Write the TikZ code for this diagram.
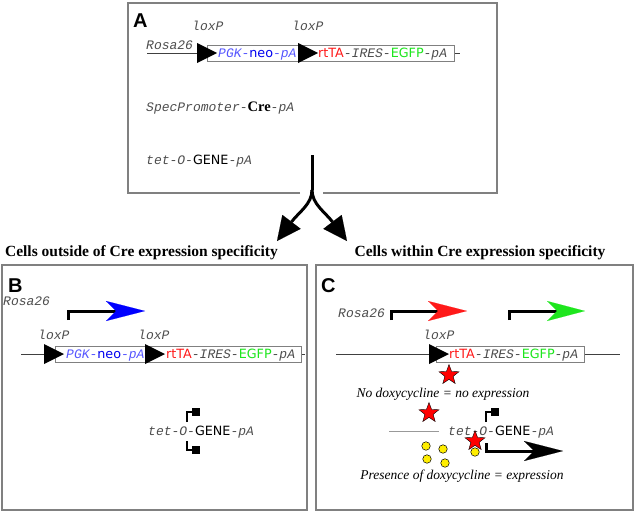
\documentclass[tikz,border=0pt]{standalone}
\usepackage{fontspec}
\setmainfont{Liberation Serif}
\setsansfont{DejaVu Sans}[Scale=0.98]
\setmonofont{Liberation Mono}
\newfontfamily\panelfont{Liberation Sans}
\usetikzlibrary{arrows.meta,shapes.geometric}

\definecolor{panelgray}{HTML}{808080}
\definecolor{seqgray}{HTML}{4D4D4D}
\definecolor{pgkblue}{HTML}{5555FF}
\definecolor{neoblue}{HTML}{0000F0}
\definecolor{tared}{HTML}{FF1A1A}
\definecolor{gfpgreen}{HTML}{1EE61E}
\definecolor{doxyellow}{HTML}{FFEE00}

\newcommand{\seqit}[1]{{\ttfamily\itshape #1}}
\newcommand{\pgkneo}{\textcolor{pgkblue}{\seqit{PGK-}}\textcolor{neoblue}{\sffamily neo}\textcolor{pgkblue}{\seqit{-pA}}}
\newcommand{\rttaegfp}{\textcolor{tared}{\sffamily rtTA}\seqit{-IRES-}\textcolor{gfpgreen}{\sffamily EGFP}\seqit{-pA}}
\newcommand{\tetgene}{\seqit{tet-O-}\textcolor{black}{\sffamily GENE}\seqit{-pA}}

\begin{document}
\begin{tikzpicture}[x=1pt, y=-1pt,
    panel/.style={draw=panelgray, line width=1.3pt},
    seq/.style={font=\fontsize{13}{15}\selectfont, text=seqgray, inner sep=0pt, anchor=base west},
    letter/.style={font=\panelfont\bfseries\fontsize{20}{22}\selectfont, inner sep=0pt, anchor=base west},
    heading/.style={font=\bfseries\fontsize{15.5}{18}\selectfont, inner sep=0pt, anchor=base},
    note/.style={font=\itshape\fontsize{13.5}{16}\selectfont, inner sep=0pt, anchor=base},
    chrom/.style={draw=black!75, line width=0.8pt},
    cassette/.style={draw=panelgray, fill=white, line width=0.9pt},
    promoter/.style={line width=3pt},
    stopline/.style={line width=1.2pt},
    rtta/.style={star, star points=5, star point ratio=2.4, draw=black, fill=red, minimum size=21pt, inner sep=0pt, line width=0.4pt},
    dox/.style={circle, draw=black, fill=doxyellow, minimum size=8.5pt, inner sep=0pt, line width=0.5pt},
    fork/.style={line width=3pt, -{Triangle[length=24pt, width=23pt, line width=0.1pt]}}]
  \useasboundingbox (0,0) rectangle (636,514);

  % panel A
  \draw [panel] (300,193) -| (128,3) -| (497,193) -- (323,193);
  \node [letter] (labA) at (133,27) {A};
  \draw [chrom] (147,53) -- (460,53);
  \draw [cassette] (207,45) rectangle (454,61);
  \fill (197,43) -- (217,53) -- (197,63) -- cycle;
  \fill (298,43) -- (318,53) -- (298,63) -- cycle;
  \node [seq] (rosaA) at (146,49) {\seqit{Rosa26}};
  \node [seq] (loxA1) at (192,30) {\seqit{loxP}};
  \node [seq] (loxA2) at (292,30) {\seqit{loxP}};
  \node [seq] (neoA) at (218,57) {\pgkneo};
  \node [seq] (rttaA) at (318,57) {\rttaegfp};
  \node [seq] (creA) at (146,111) {\seqit{SpecPromoter-}\textcolor{black}{\rmfamily\bfseries\fontsize{14.5}{16}\selectfont Cre}\seqit{-pA}};
  \node [seq] (tetA) at (146,164) {\tetgene};

  % split
  \coordinate (forkTop) at (312,155);
  \coordinate (fork) at (312,190);
  \node [heading] (outside) at (141.5,256) {Cells outside of Cre expression specificity};
  \node [heading] (within) at (480,256) {Cells within Cre expression specificity};
  \coordinate (tipL) at (277,241);
  \coordinate (tipR) at (347,241);
  \draw [line width=3pt] (forkTop) -- (fork);
  \draw [fork] (fork) .. controls (312,204) and (299,212) .. (tipL);
  \draw [fork] (fork) .. controls (312,204) and (325,212) .. (tipR);

  % panel B
  \draw [panel] (2,265) rectangle (307,510);
  \node [letter] (labB) at (8,292) {B};
  \node [seq] (rosaB) at (3,305) {\seqit{Rosa26}};
  \draw [promoter, -{Stealth[length=39pt, width=20pt, inset=10pt, color=blue, line width=0.1pt]}] (68,320) |- (145,311);
  \draw [chrom] (21,354) -- (305,354);
  \draw [cassette] (55,346) rectangle (301,362);
  \fill (44,344) -- (64,354) -- (44,364) -- cycle;
  \fill (145,344) -- (165,354) -- (145,364) -- cycle;
  \node [seq] (loxB1) at (38,339) {\seqit{loxP}};
  \node [seq] (loxB2) at (138,339) {\seqit{loxP}};
  \node [seq] (neoB) at (66,358) {\pgkneo};
  \node [seq] (rttaB) at (166,358) {\rttaegfp};
  \node [seq] (tetB) at (148,435) {\tetgene};
  \draw [stopline] (187,422) |- (192,412);
  \fill (192,408) rectangle (200,416);
  \draw [stopline] (187,441) |- (192,450);
  \fill (192,446) rectangle (200,454);

  % panel C
  \draw [panel] (316,265) rectangle (633,510);
  \node [letter] (labC) at (321,292) {C};
  \node [seq] (rosaC) at (338,317) {\seqit{Rosa26}};
  \draw [promoter, -{Stealth[length=39pt, width=20pt, inset=10pt, color=tared, line width=0.1pt]}] (391,320) |- (467,311);
  \draw [promoter, -{Stealth[length=38pt, width=20pt, inset=10pt, color=gfpgreen, line width=0.1pt]}] (509,320) |- (585,311);
  \draw [chrom] (336,354) -- (620,354);
  \draw [cassette] (436,346) rectangle (584,362);
  \fill (429,344) -- (449,354) -- (429,364) -- cycle;
  \node [seq] (loxC) at (423,339) {\seqit{loxP}};
  \node [seq] (rttaC) at (449,358) {\rttaegfp};
  \node [rtta] (star1) at (449,375) {};
  \node [note] (nodox) at (443,397) {No doxycycline = no expression};
  \node [rtta] (star2) at (429,413) {};
  \draw [draw=black!40, line width=0.8pt] (389,431) -- (439,431);
  \node [seq] (tetC) at (448,435) {\tetgene};
  \draw [stopline] (486,422) |- (491,412);
  \fill (491,408) rectangle (499,416);
  \node [rtta] (star3) at (475,441) {};
  \draw [promoter, -{Stealth[length=39pt, width=20pt, inset=10pt, color=black, line width=0.1pt]}] (486,443) |- (563,451);
  \node [dox] (dox1) at (475,452) {};
  \node [dox] (dox2) at (426,446) {};
  \node [dox] (dox3) at (443,449) {};
  \node [dox] (dox4) at (427,459) {};
  \node [dox] (dox5) at (445,463) {};
  \node [note] (dox) at (462,479) {Presence of doxycycline = expression};
\end{tikzpicture}
\end{document}
